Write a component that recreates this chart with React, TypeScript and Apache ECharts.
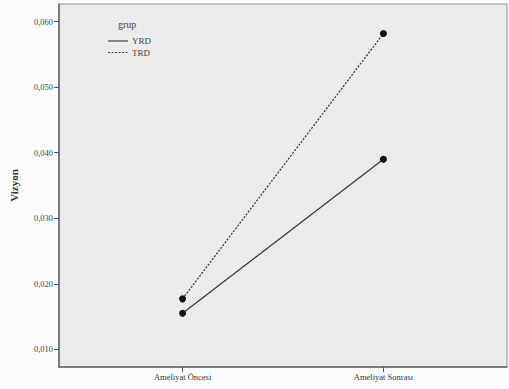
import React, { useEffect, useRef } from "react";
import * as echarts from "echarts";

const categories = ["Ameliyat Öncesi", "Ameliyat Sonrası"];
const seriesNames = ["YRD", "TRD"];
const yrdValues = [0.0155, 0.039];
const trdValues = [0.0177, 0.0582];
const yTicks = [0.01, 0.02, 0.03, 0.04, 0.05, 0.06];
const legendTitle = "grup";
const yAxisName = "Vizyon";

const FONT = "Liberation Serif";

export default function App() {
  const ref = useRef<HTMLDivElement>(null);
  useEffect(() => {
    if (!ref.current) return;
    const chart = echarts.init(ref.current, undefined, { renderer: "svg" });
    const catIdx = categories.map((_, i) => i);
    const mk = (vals: number[]) => vals.map((v, i) => [catIdx[i], v]);
    const lineTypes: any[] = ["solid", [2, 1.5]];
    const legendGraphics: any[] = [
      {
        type: "text",
        left: 118,
        top: 19,
        style: { text: legendTitle, font: `10px "${FONT}"`, fill: "#444444" },
      },
    ];
    seriesNames.forEach((name, i) => {
      const y = 41 + i * 11.5;
      legendGraphics.push({
        type: "line",
        shape: { x1: 108, y1: y, x2: 128, y2: y },
        style: { stroke: "#444444", lineWidth: 1.2, lineDash: i === 0 ? null : [2, 1.5] },
      });
      legendGraphics.push({
        type: "text",
        x: 132,
        y: y,
        style: { text: name, font: `9px "${FONT}"`, fill: "#444444", verticalAlign: "middle" },
      });
    });
    chart.setOption({
      animation: false,
      backgroundColor: "#fcfcfc",
      grid: {
        left: 57,
        right: 2,
        top: 4,
        bottom: 22,
        show: true,
        backgroundColor: "#ebebeb",
        borderColor: "#8c8c8c",
        borderWidth: 1,
      },
      xAxis: {
        type: "value",
        min: -0.615,
        max: 1.615,
        splitLine: { show: false },
        axisLine: { show: true, onZero: false, lineStyle: { color: "#666666", width: 1.5 } },
        axisTick: {
          show: true,
          customValues: catIdx,
          length: 5,
          lineStyle: { color: "#555555" },
        },
        axisLabel: {
          customValues: catIdx,
          formatter: (v: number) => categories[Math.round(v)] ?? "",
          fontFamily: FONT,
          fontSize: 8.5,
          color: "#333333",
          margin: 5,
        },
      },
      yAxis: {
        type: "value",
        min: 0.0073,
        max: 0.0627,
        name: yAxisName,
        nameLocation: "middle",
        nameGap: 40,
        nameTextStyle: { fontFamily: FONT, fontSize: 11, fontWeight: "bold", color: "#333333" },
        splitLine: { show: false },
        axisLine: { show: true, onZero: false, lineStyle: { color: "#666666", width: 1.5 } },
        axisTick: { show: true, customValues: yTicks, length: 5, lineStyle: { color: "#555555" } },
        axisLabel: {
          customValues: yTicks,
          formatter: (v: number) => v.toFixed(3).replace(".", ","),
          fontFamily: FONT,
          fontSize: 8.5,
          color: "#444444",
          margin: 6,
        },
      },
      graphic: legendGraphics,
      series: [yrdValues, trdValues].map((vals, i) => ({
        name: seriesNames[i],
        type: "line",
        data: mk(vals),
        symbol: "circle",
        symbolSize: 7,
        itemStyle: { color: "#111111" },
        lineStyle: { color: "#3a3a3a", width: 1.3, type: lineTypes[i] },
      })),
    });
    return () => chart.dispose();
  }, []);
  return (
    <div
      ref={ref}
      style={{ position: "fixed", left: 0, top: 0, width: 509, height: 389 }}
    />
  );
}
